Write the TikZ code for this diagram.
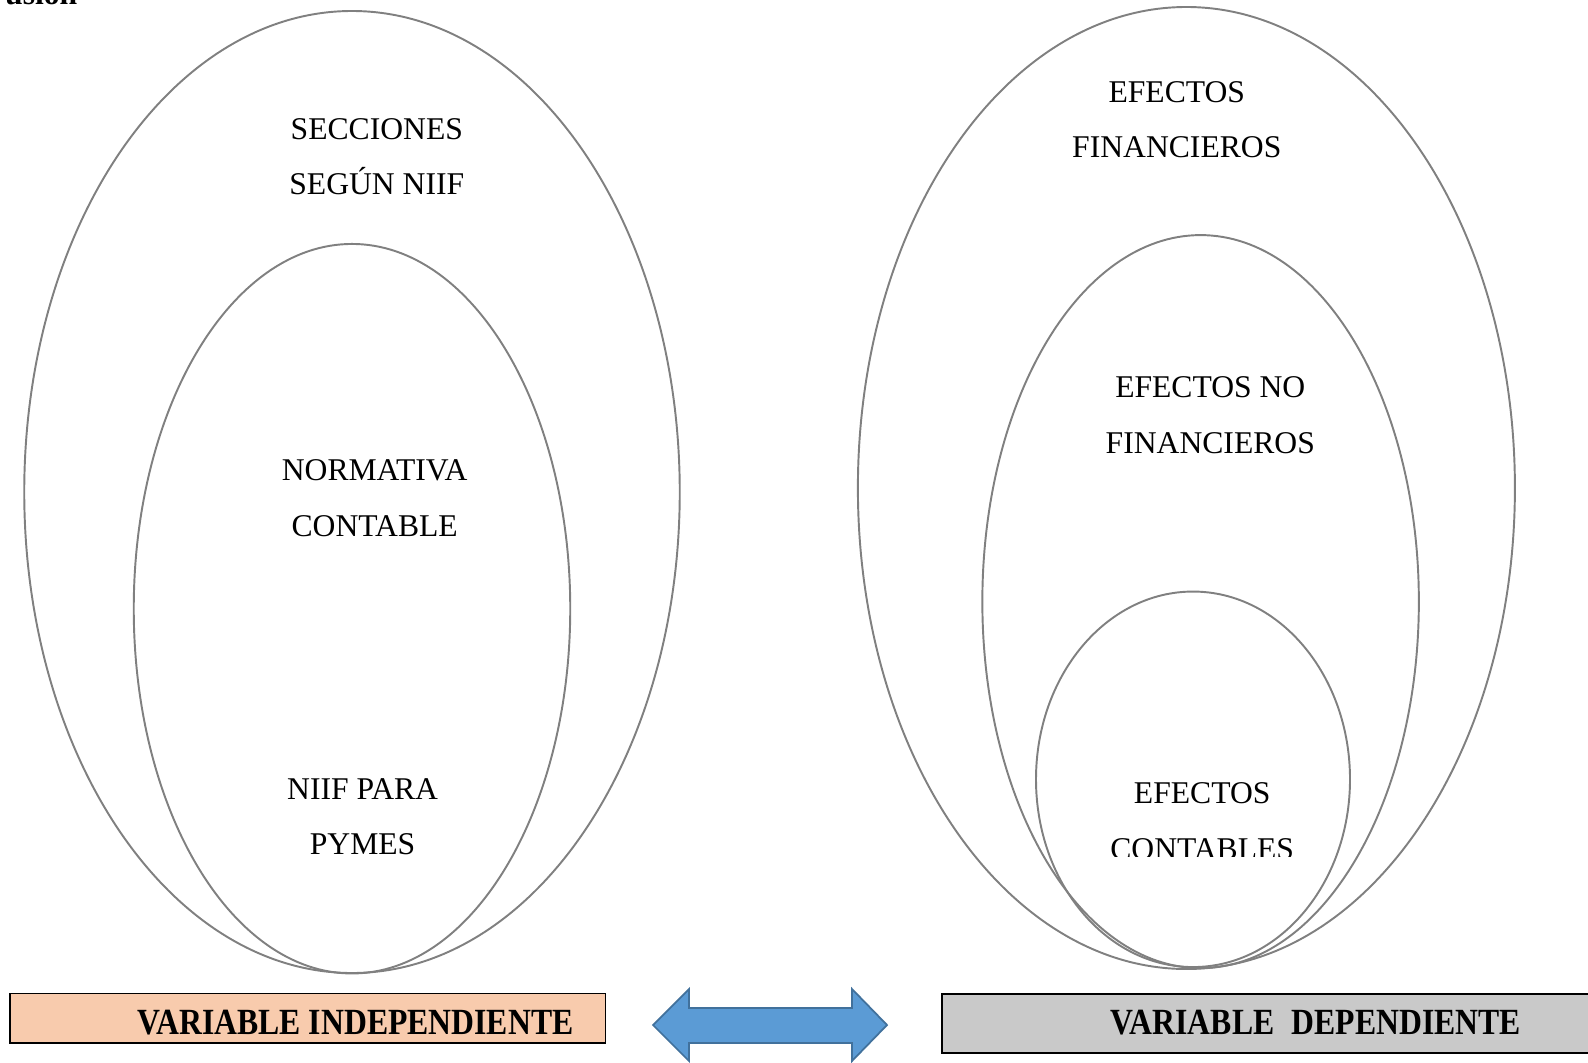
\documentclass[tikz,border=0pt]{standalone}
\usepackage{fontspec}
\setmainfont{Liberation Serif}
\usetikzlibrary{shapes.geometric}
\definecolor{ringgray}{HTML}{808080}
\definecolor{peach}{HTML}{F8CBAD}
\definecolor{boxgray}{HTML}{C9C9C9}
\definecolor{arrowblue}{HTML}{5B9BD5}
\definecolor{arrowline}{HTML}{41719C}
\begin{document}
\begin{tikzpicture}[x=0.2mm, y=-0.2mm,
    ring/.style = {draw=ringgray, line width=1.1pt, ellipse, inner sep=0pt},
    txt/.style = {align=center, font=\fontsize{18}{31.6}\selectfont},
    varbox/.style = {draw, line width=0.9pt, rectangle, inner sep=0pt},
    vartxt/.style = {font=\fontsize{21}{25}\selectfont\bfseries}]
  \useasboundingbox (0,0) rectangle (1588,1062);
  \node[anchor=base west, font=\fontsize{18}{20}\selectfont\bfseries] (title) at (-1,4) {usión};
  % variable independiente
  \node[ring, minimum width=131.1mm, minimum height=192.4mm] (secc) at (352,492) {};
  \node[ring, minimum width=87.3mm, minimum height=145.9mm] (norm) at (352,608.7) {};
  \node[txt] (t1) at (376.8,156.5) {SECCIONES\\SEGÚN NIIF};
  \node[txt] (t2) at (374.7,498.3) {NORMATIVA\\CONTABLE};
  \node[txt] (t3) at (362.6,816.9) {NIIF PARA\\PYMES};
  % variable dependiente
  \node[ring, minimum width=131.4mm, minimum height=192.4mm] (fin) at (1186.4,488) {};
  \node[ring, minimum width=87.3mm, minimum height=146.6mm] (nofin) at (1200.6,601.6) {};
  \node[ring, minimum width=62.8mm, minimum height=75.1mm] (cont) at (1193,779.3) {};
  \node[txt] (t4) at (1176.8,119.6) {EFECTOS\\FINANCIEROS};
  \node[txt] (t5) at (1210.3,415.3) {EFECTOS NO\\FINANCIEROS};
  \begin{scope}
    \clip (1000,700) rectangle (1400,856);
    \node[txt] (t6) at (1202.2,821.4) {EFECTOS\\CONTABLES};
  \end{scope}
  % cajas
  \node[varbox, fill=peach, minimum width=119.1mm, minimum height=9.9mm] (indep) at (307.9,1018.4) {};
  \node[vartxt] (indeptxt) at (355.5,1023) {\scalebox{0.86}[1]{VARIABLE INDEPENDIENTE}};
  \node[varbox, fill=boxgray, minimum width=131.6mm, minimum height=11.9mm] (dep) at (1271,1023.5) {};
  \node[vartxt] (deptxt) at (1316,1023) {\scalebox{0.86}[1]{VARIABLE\hspace{0.55em}DEPENDIENTE}};
  % flecha doble
  \draw[fill=arrowblue, draw=arrowline, line width=1pt] (653,1025) -- (689,989) -- (689,1008)
    -- (852,1008) -- (852,989) -- (887,1025) -- (852,1061) -- (852,1043)
    -- (689,1043) -- (689,1061) -- cycle;
\end{tikzpicture}
\end{document}
